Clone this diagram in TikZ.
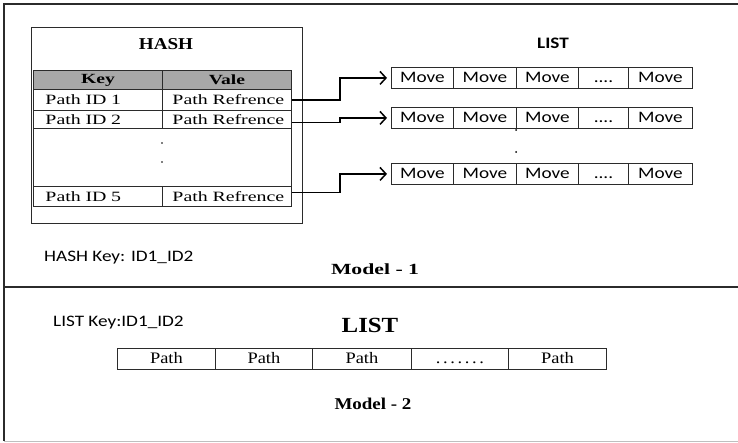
\documentclass[tikz,border=0pt]{standalone}
\usepackage{fontspec}
\setmainfont{Liberation Serif}
\newfontfamily\srfA{Liberation Serif}[FakeStretch=1.4]
\newfontfamily\srfB{Liberation Serif}[FakeStretch=1.15]
\newfontfamily\sns{Carlito}[FakeStretch=1.2]
\usetikzlibrary{arrows.meta,calc}
\definecolor{ln}{HTML}{2B2B2B}
\definecolor{hdr}{HTML}{A8A8A8}
\newcommand{\fourdt}{....}
\newcommand{\sevendt}{.\,.\,.\,.\,.\,.\,.}
\begin{document}
\begin{tikzpicture}[x=1pt,y=-1pt,
  cell/.style={draw=ln, line width=0.9pt, anchor=north west, inner ysep=0pt, text=black},
  kcell/.style={cell, text width=123pt, inner xsep=3pt, align=left, execute at begin node={\hspace*{9pt}}, font=\srfA\fontsize{14.2}{15}\selectfont},
  vcell/.style={cell, text width=123pt, inner xsep=3pt, align=left, execute at begin node={\hspace*{7pt}}, font=\srfA\fontsize{14.2}{15}\selectfont},
  hcell/.style={cell, fill=hdr, minimum width=129pt, minimum height=19pt, inner xsep=0pt, font=\srfA\bfseries\fontsize{14}{15}\selectfont},
  mvcell/.style={cell, minimum height=21pt, inner xsep=0pt, text height=12pt, text depth=2pt, font=\sns\fontsize{16}{17}\selectfont},
  pcell/.style={cell, minimum height=21pt, inner xsep=0pt, text height=12pt, text depth=2pt, font=\srfB\fontsize{16}{17}\selectfont},
  conn/.style={draw=black, line width=1.6pt, -{Straight Barb[length=6pt,width=13pt,line width=1.5pt]}, shorten >=4pt},
  sanslbl/.style={inner sep=0pt, font=\sns\fontsize{16}{17}\selectfont},
  dotm/.style={fill=black}
]
\useasboundingbox (0,0) rectangle (738,443);
\fill[white] (0,0) rectangle (738,443);
% outer frame
\coordinate (tl) at (4,4);
\coordinate (tr) at (738,4);
\coordinate (bl) at (4,441);
\coordinate (br) at (738,441);
\coordinate (dl) at (4,287);
\coordinate (dr) at (738,287);
\draw[ln, line width=1.4pt] (tr) -- (tl) -- (bl);
\draw[black!25, line width=1pt] (bl) -- (br);
\draw[ln, line width=2pt] (dl) -- (dr);

% HASH box
\node[draw=ln, line width=1pt, anchor=north west, minimum width=271pt, minimum height=196pt, inner sep=0pt] (hashbox) at (31,27) {};
\node[font=\srfB\bfseries\fontsize{16.6}{18}\selectfont] (hashtitle) at (166,44) {HASH};

% table
\node[hcell] (hk) at (33,70) {Key};
\node[hcell] (hv) at (162,70) {Vale};
\node[kcell, minimum height=21pt] (k1) at (33,89) {Path ID 1};
\node[vcell, minimum height=21pt] (v1) at (162,89) {Path Refrence};
\node[kcell, minimum height=18pt] (k2) at (33,110) {Path ID 2};
\node[vcell, minimum height=18pt] (v2) at (162,110) {Path Refrence};
\node[cell, minimum width=258pt, minimum height=58pt, inner sep=0pt] (blank) at (33,128) {};
\node[kcell, minimum height=20pt] (k5) at (33,186) {Path ID 5};
\node[vcell, minimum height=20pt] (v5) at (162,186) {Path Refrence};
\fill[dotm] (162,143) circle (0.9pt);
\fill[dotm] (162,162) circle (0.9pt);

\node[sanslbl, anchor=west] (hashkey) at (44,258) {HASH Key: ID1\_ID2};
\node[font=\srfA\bfseries\fontsize{15.5}{17}\selectfont] (model1) at (375,269) {Model - 1};

% top LIST
\node[font=\sns\bfseries\fontsize{16}{17}\selectfont] (listtop) at (553,43) {LIST};
\foreach \r/\y in {1/67,2/107,3/163}{
  \foreach \c/\x/\w/\t in {1/391/62/Move,2/453/63/Move,3/516/62/Move,4/578/50/\fourdt,5/628/64/Move}{
    \node[mvcell, minimum width=\w pt] (m\r\c) at (\x,\y) {\t};
  }
}
\fill[dotm] (516,130) circle (1pt);
\fill[dotm] (516,152) circle (1pt);

% connectors
\coordinate (jx) at (340,0);
\draw[conn] (v1.east) -- (v1.east -| jx) |- (m11.west);
\draw[conn] ([yshift=-3pt]v2.east) -- ([yshift=-3pt]v2.east -| jx) |- (m21.west);
\draw[conn] ([yshift=4pt]v5.east) -- ([yshift=4pt]v5.east -| jx) |- (m31.west);

% Model 2
\node[sanslbl, anchor=west] (listkey) at (53,323) {LIST Key:ID1\_ID2};
\node[font=\srfB\bfseries\fontsize{21.6}{23}\selectfont] (listbot) at (370,325) {LIST};
\foreach \c/\x/\w/\t in {1/117/98/Path,2/215/97/Path,3/312/99/Path,4/411/97/\sevendt,5/508/98/Path}{
  \node[pcell, minimum width=\w pt] (p\c) at (\x,348) {\t};
}
\node[font=\srfB\bfseries\fontsize{16.5}{18}\selectfont] (model2) at (373,404) {Model - 2};
\end{tikzpicture}
\end{document}
